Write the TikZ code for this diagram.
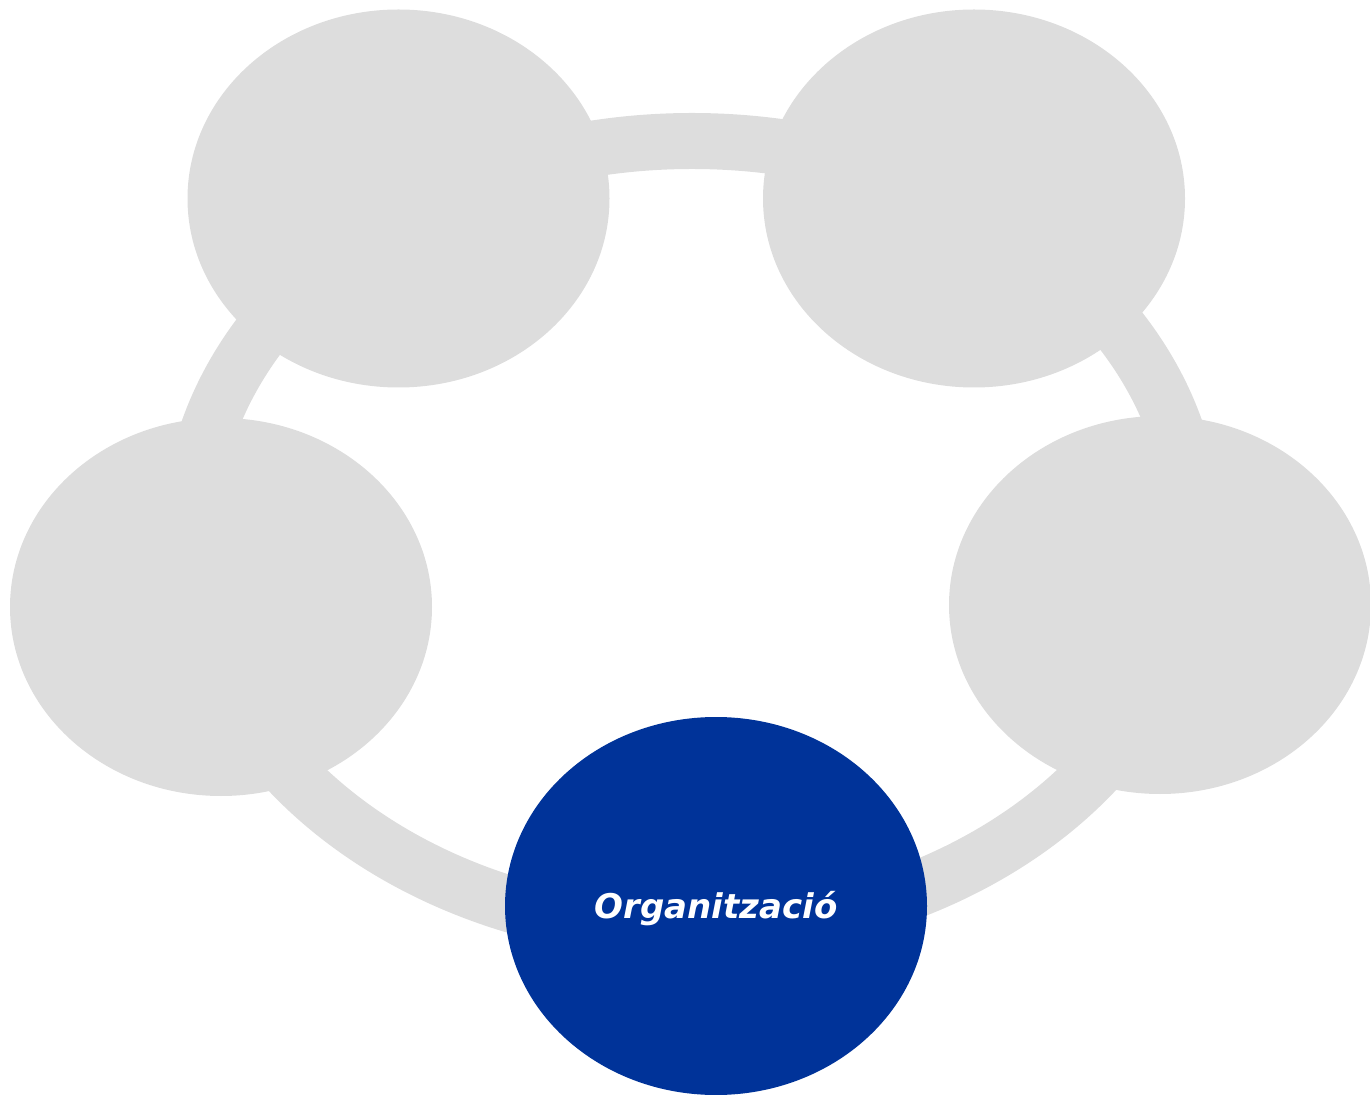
\documentclass[tikz,border=0pt]{standalone}
\usepackage{fontspec}
\setmainfont{DejaVu Sans}
\usetikzlibrary{shapes.geometric}
\definecolor{ringgray}{HTML}{DDDDDD}
\definecolor{orgblue}{HTML}{003399}
\tikzset{
  bubble/.style={ellipse, inner sep=0pt, draw=none, minimum width=211pt, minimum height=189pt},
  graybubble/.style={bubble, fill=ringgray},
  bluebubble/.style={bubble, fill=orgblue},
  ringline/.style={draw=ringgray, line width=28pt},
  label/.style={text=white, font=\fontsize{17pt}{19pt}\selectfont\bfseries\itshape, inner sep=0pt}
}
\begin{document}
\begin{tikzpicture}[x=0.5pt,y=-0.5pt]
\useasboundingbox (0,0) rectangle (1370,1095);
% ring
\path[ringline] (692,536) ellipse [x radius=251pt, y radius=197.5pt];
% bubbles
\node[graybubble] (tl) at (398.5,198.5) {};
\node[graybubble] (tr) at (974,198.5) {};
\node[graybubble] (l) at (221,607) {};
\node[graybubble] (r) at (1160,605) {};
\node[bluebubble] (b) at (716,906) {};
\node[label, anchor=base] (txt) at (716,918) {Organització};
\end{tikzpicture}
\end{document}
